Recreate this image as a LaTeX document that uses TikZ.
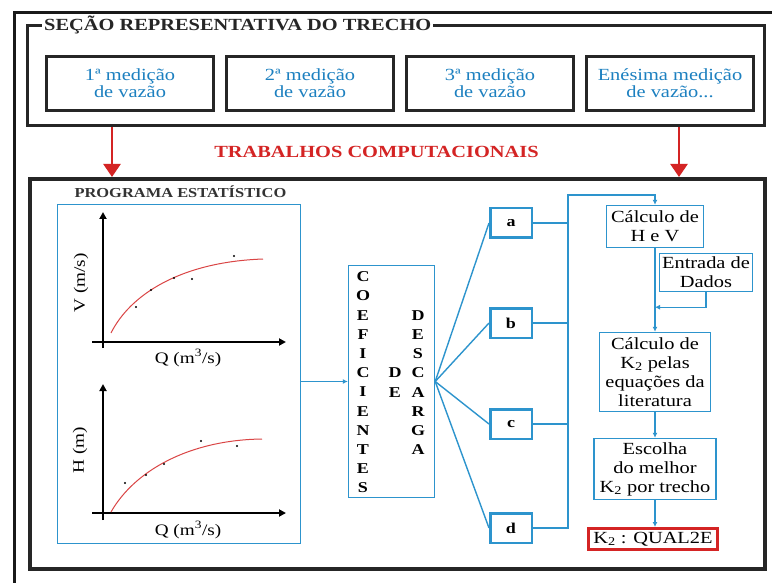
\documentclass[tikz,border=0pt]{standalone}
\usepackage{fontspec}
\setmainfont{Liberation Serif}[FakeStretch=1.2]
\usepackage{xcolor}
\usetikzlibrary{arrows.meta,positioning}
\definecolor{azul}{RGB}{45,148,205}
\definecolor{azultxt}{RGB}{28,128,192}
\definecolor{verm}{RGB}{212,36,36}

\begin{document}
\begin{tikzpicture}[x=1pt,y=-1pt,>={Latex[length=5pt,width=5pt]},font=\fontsize{17}{19}\selectfont]
		\tikzstyle{quadro}=[draw=black!85,line width=3pt]
		\tikzstyle{medicao}=[quadro,minimum width=167pt,minimum height=54pt,text=azultxt,align=center,inner sep=0pt,font=\fontsize{17}{17}\selectfont]
		\tikzstyle{caixa}=[draw=azul,line width=1.4pt,align=center,inner sep=0pt,font=\fontsize{17}{19}\selectfont]
		\tikzstyle{letra}=[draw=azul,line width=2.5pt,minimum width=41.5pt,minimum height=29.5pt,inner sep=0pt,font=\bfseries\fontsize{15}{15}\selectfont]
		\tikzstyle{coluna}=[align=center,inner sep=0pt,font=\bfseries\fontsize{15}{19.2}\selectfont]
		\tikzstyle{linha}=[draw=azul,line width=1.4pt]
		\tikzstyle{seta}=[linha,->]
		\tikzstyle{setavermelha}=[draw=verm,line width=2.5pt,-{Triangle[length=13pt,width=17pt]}]
		\tikzstyle{eixo}=[line width=2.5pt,-{Triangle[length=7pt,width=7pt]}]
		\tikzstyle{curva}=[draw=verm!85,line width=1pt]
		\tikzstyle{ponto}=[fill=black,radius=1.2pt]
		
		\useasboundingbox (0,0) rectangle (772,583);
		\fill[white] (0,0) rectangle (772,583);
		\draw[line width=3pt,black!90] (14,583) -- (14,13) -- (772,13);
		
		% secao representativa
		\node[quadro,minimum width=737pt,minimum height=100pt] (secao) at (396,75.5) {};
		\node[fill=white,inner sep=2pt,anchor=west,text=black!85,font=\bfseries\fontsize{17}{17}\selectfont] (titulo) at (42,25) {SEÇÃO REPRESENTATIVA DO TRECHO};
		\node[medicao] (m_1) at (130,83.5)      {1ª medição\\de vazão};
		\node[medicao] (m_2) [right=10pt of m_1] {2ª medição\\de vazão};
		\node[medicao] (m_3) [right=10pt of m_2] {3ª medição\\de vazão};
		\node[medicao] (m_4) [right=10pt of m_3] {Enésima medição\\de vazão...};
		
		% trabalhos computacionais
		\node[quadro,line width=4pt,minimum width=735pt,minimum height=390pt] (comp) at (397.5,374) {};
		\node[text=verm,font=\bfseries\fontsize{17}{17}\selectfont] (trab) at (376.5,152) {TRABALHOS COMPUTACIONAIS};
		\coordinate (r_1) at (112,0);
		\coordinate (r_2) at (679,0);
		\draw[setavermelha] (secao.south -| r_1) -- (comp.north -| r_1);
		\draw[setavermelha] (secao.south -| r_2) -- (comp.north -| r_2);
		
		% programa estatistico
		\node[anchor=west,text=black!80,font=\bfseries\fontsize{13.7}{13.7}\selectfont] (titprog) at (71,192) {PROGRAMA ESTATÍSTICO};
		\node[linha,minimum width=243pt,minimum height=339pt] (prog) at (179,374) {};
		
		\draw[eixo] (103,348) -- (103,212);
		\draw[eixo] (92,342) -- (286,342);
		\draw[curva] (111,333) .. controls (130,295) and (180,262) .. (263,259);
		\foreach \x/\y in {136/307,151/290,174/278,192/279,234/256}
		\fill[ponto] (\x,\y) circle;
		\node[rotate=90,font=\fontsize{16}{16}\selectfont] (rot_v) at (81,283) {V (m/s)};
		\node[font=\fontsize{16}{16}\selectfont] (rot_q1) at (188,358) {Q (m\textsuperscript{3}/s)};
		
		\draw[eixo] (103,520) -- (103,384);
		\draw[eixo] (92,513) -- (286,513);
		\draw[curva] (111,512) .. controls (135,470) and (190,440) .. (262,439);
		\foreach \x/\y in {125/483,146/475,164/464,201/441,237/446}
		\fill[ponto] (\x,\y) circle;
		\node[rotate=90,font=\fontsize{16}{16}\selectfont] (rot_h) at (80,450) {H (m)};
		\node[font=\fontsize{16}{16}\selectfont] (rot_q2) at (188,530) {Q (m\textsuperscript{3}/s)};
		
		% coeficientes de descarga
		\node[linha,minimum width=86pt,minimum height=232pt] (coef) at (391.5,381.5) {};
		\node[coluna] (col_1) at (363,382.5) {C\\O\\E\\F\\I\\C\\I\\E\\N\\T\\E\\S};
		\node[coluna] (col_2) at (395,382.5) {D\\E};
		\node[coluna] (col_3) at (418,382.5) {D\\E\\S\\C\\A\\R\\G\\A};
		\draw[seta] (prog.east |- coef.west) -- (coef.west);
		
		\node[letra] (a) at (511,223)           {a};
		\node[letra] (b) [on grid,below=100pt of a] {b};
		\node[letra] (c) [on grid,below=101pt of b] {c};
		\node[letra] (d) [on grid,below=104pt of c] {d};
		\foreach \n in {a,b,c,d}
		\draw[linha] (coef.east) -- (\n.west);
		
		% calculos
		\node[caixa,minimum width=97pt,minimum height=42pt]  (hv)   at (655,226.5) {Cálculo de\\H e V};
		\node[caixa,minimum width=93pt,minimum height=38pt]  (ent)  at (706,272.5) {Entrada de\\Dados};
		\node[caixa,minimum width=111pt,minimum height=79pt] (calc) at (655,372)   {Cálculo de\\K\textsubscript{2} pelas\\equações da\\literatura};
		\node[caixa,minimum width=122pt,minimum height=61pt] (esc)  at (655,469)   {Escolha\\do melhor\\K\textsubscript{2} por trecho};
		\node[caixa,draw=verm,line width=3pt,minimum width=129pt,minimum height=21pt] (qual) at (653,539) {K\textsubscript{2} : QUAL2E};
		
		\coordinate (bus) at (568,195);
		\draw[seta] (d.east) -| (bus) -| (hv.north);
		\foreach \n in {a,b,c}
		\draw[linha] (\n.east) -- (\n.east -| bus);
		
		\path (hv.south) ++(0,59) coordinate (jun);
		\draw[seta] (hv.south) -- (hv.south |- calc.north);
		\draw[seta] (ent.south) |- (jun);
		\draw[seta] (calc.south) -- (calc.south |- esc.north);
		\draw[seta] (esc.south) -- (esc.south |- qual.north);
		
\end{tikzpicture}
\end{document}
